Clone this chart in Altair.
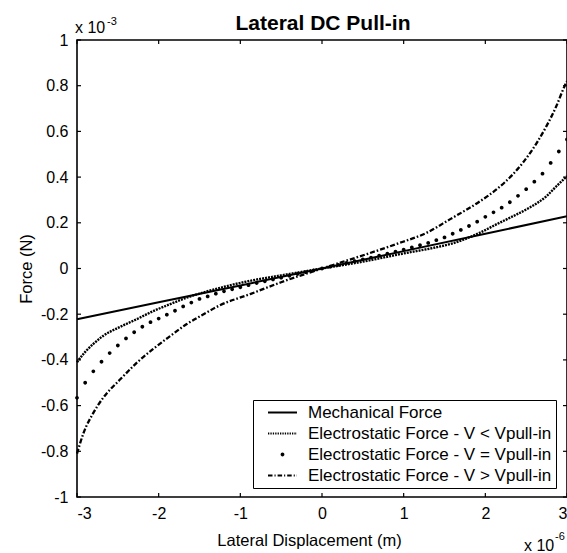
import altair as alt
import pandas as pd

FONT = "Liberation Sans"

# ---------------- data (x in 1e-6 m, force in 1e-3 N) ----------------
series_names = [
    "Mechanical Force",
    "Electrostatic Force - V < Vpull-in",
    "Electrostatic Force - V = Vpull-in",
    "Electrostatic Force - V > Vpull-in",
]

mech_x = [-3.0, -2.0, -1.0, 0.0, 1.0, 2.0, 3.0]
mech_y = [-0.222, -0.148, -0.074, 0.0, 0.076, 0.152, 0.229]

below_x = [-3.0, -2.9, -2.8, -2.68, -2.47, -2.27, -2.07, -1.86, -1.66, -1.455, -1.2,
           -0.88, -0.5, 0.0, 0.5, 1.0, 1.36, 1.6, 1.93, 2.14, 2.34, 2.54, 2.75, 2.87, 3.0]
below_y = [-0.41, -0.365, -0.33, -0.295, -0.255, -0.222, -0.187, -0.156, -0.128, -0.105, -0.08,
           -0.054, -0.03, 0.0, 0.03, 0.066, 0.09, 0.11, 0.156, 0.194, 0.229, 0.266, 0.317, 0.36, 0.404]

equal_x = [-3.0, -2.9, -2.8, -2.7, -2.6, -2.5, -2.4, -2.3, -2.2, -2.1,
           -2.0, -1.9, -1.8, -1.7, -1.6, -1.5, -1.4, -1.3, -1.2, -1.1,
           -1.0, -0.9, -0.8, -0.7, -0.6, -0.5, -0.4, -0.3, -0.2, -0.1,
           0.0, 0.1, 0.2, 0.3, 0.4, 0.5, 0.6, 0.7, 0.8, 0.9,
           1.0, 1.1, 1.2, 1.3, 1.4, 1.5, 1.6, 1.7, 1.8, 1.9,
           2.0, 2.1, 2.2, 2.3, 2.4, 2.5, 2.6, 2.7, 2.8, 2.9, 3.0]
equal_y = [-0.566, -0.50, -0.45, -0.408, -0.37, -0.337, -0.306, -0.279, -0.255, -0.235,
           -0.219, -0.202, -0.185, -0.166, -0.149, -0.133, -0.122, -0.11, -0.10, -0.091,
           -0.082, -0.073, -0.064, -0.056, -0.048, -0.04, -0.032, -0.024, -0.016, -0.008,
           0.0, 0.008, 0.016, 0.024, 0.032, 0.04, 0.048, 0.056, 0.065, 0.074,
           0.083, 0.092, 0.102, 0.112, 0.124, 0.136, 0.152, 0.169, 0.186, 0.205,
           0.226, 0.246, 0.266, 0.29, 0.318, 0.347, 0.38, 0.415, 0.462, 0.512, 0.565]

above_x = [-3.0, -2.92, -2.80, -2.68, -2.47, -2.27, -2.07, -1.86, -1.66, -1.45, -1.25,
           -0.88, -0.5, 0.0, 0.54, 0.95, 1.28, 1.565, 1.93, 2.14, 2.34, 2.46, 2.63,
           2.75, 2.87, 2.97, 3.0]
above_y = [-0.81, -0.72, -0.632, -0.566, -0.485, -0.413, -0.353, -0.296, -0.244, -0.20, -0.161,
           -0.112, -0.06, 0.0, 0.062, 0.112, 0.156, 0.215, 0.293, 0.347, 0.413, 0.463, 0.55,
           0.624, 0.711, 0.798, 0.82]

x_ticks = [-3, -2, -1, 0, 1, 2, 3]
y_ticks = [-1, -0.8, -0.6, -0.4, -0.2, 0, 0.2, 0.4, 0.6, 0.8, 1]

title_text = "Lateral DC Pull-in"
x_title = "Lateral Displacement (m)"
y_title = "Force (N)"

mech_df = pd.DataFrame({"x": mech_x, "y": mech_y, "series": series_names[0]})
below_df = pd.DataFrame({"x": below_x, "y": below_y, "series": series_names[1]})
equal_df = pd.DataFrame({"x": equal_x, "y": equal_y, "series": series_names[2]})
above_df = pd.DataFrame({"x": above_x, "y": above_y, "series": series_names[3]})
xt_df = pd.DataFrame({"v": x_ticks})
yt_df = pd.DataFrame({"v": y_ticks})

W, H = 490, 457

# ---------------- legend symbol paths (filled shapes; style only) ----------------
HALF = 2.9


def bars(pattern, thick):
    out, pos, i = [], -HALF, 0
    while pos < HALF - 1e-9:
        length, gap = pattern[i % len(pattern)]
        length = min(length, HALF - pos)
        out.append(f"M{pos:.3f},{-thick:.3f}h{length:.3f}v{2 * thick:.3f}h{-length:.3f}Z")
        pos += length + gap
        i += 1
    return "".join(out)


path_solid = bars([(2 * HALF, 0)], 0.2)
path_dotted = bars([(0.26, 0.22)], 0.19)
path_dot = "M-0.38,0a0.38,0.38 0 1,0 0.76,0a0.38,0.38 0 1,0 -0.76,0Z"
path_dashdot = bars([(0.9, 0.4), (0.22, 0.4)], 0.19)

shape_scale = alt.Scale(domain=series_names,
                        range=[path_solid, path_dotted, path_dot, path_dashdot])

x_scale = alt.Scale(domain=[-3, 3], nice=False, zero=False)
y_scale = alt.Scale(domain=[-1, 1], nice=False, zero=False)

x_main_axis = alt.Axis(orient="bottom", values=x_ticks, labelExpr="'' + datum.value",
                       ticks=False, labelPadding=8, domain=False, grid=False,
                       title=x_title, titleX=232, titleY=48,
                       titleBaseline="alphabetic")
y_main_axis = alt.Axis(orient="left", values=y_ticks, labelExpr="'' + datum.value",
                       ticks=False, labelPadding=9, domain=False, grid=False,
                       title=y_title, titleX=-46, titleY=228.5,
                       titleBaseline="alphabetic", titleAngle=-90)

mech = alt.Chart(mech_df).mark_line(color="black", strokeWidth=2).encode(
    x=alt.X("x:Q", scale=x_scale, axis=x_main_axis),
    y=alt.Y("y:Q", scale=y_scale, axis=y_main_axis),
)

below = alt.Chart(below_df).mark_line(
    color="black", strokeWidth=2.4, strokeDash=[2, 1], interpolate="monotone"
).encode(
    x=alt.X("x:Q", scale=x_scale, axis=None),
    y=alt.Y("y:Q", scale=y_scale, axis=None),
)

above = alt.Chart(above_df).mark_line(
    color="black", strokeWidth=2.3, strokeDash=[5, 2, 1.6, 2], interpolate="monotone"
).encode(
    x=alt.X("x:Q", scale=x_scale, axis=None),
    y=alt.Y("y:Q", scale=y_scale, axis=None),
)

legend = alt.Legend(
    title=None, orient="none", legendX=176, legendY=360,
    padding=4, rowPadding=3, symbolSize=100, symbolStrokeWidth=0,
    symbolFillColor="black", symbolOpacity=1,
    symbolOffset=17, labelOffset=17, labelFont=FONT, labelFontSize=17,
    labelColor="black", labelLimit=0, strokeColor="black", fillColor="white",
)

equal = alt.Chart(equal_df).mark_point(
    filled=True, size=100, color="black", strokeWidth=0, opacity=1
).encode(
    x=alt.X("x:Q", scale=x_scale, axis=None),
    y=alt.Y("y:Q", scale=y_scale, axis=None),
    shape=alt.Shape("series:N", scale=shape_scale, legend=legend),
)

# inward tick marks on all four sides, placed by the scales at the tick values
TK = 4
ticks_bottom = alt.Chart(xt_df).mark_rule(color="black", strokeWidth=1.2).encode(
    x=alt.X("v:Q", scale=x_scale, axis=None), y=alt.value(H), y2=alt.value(H - TK))
ticks_top = alt.Chart(xt_df).mark_rule(color="black", strokeWidth=1.2).encode(
    x=alt.X("v:Q", scale=x_scale, axis=None), y=alt.value(0), y2=alt.value(TK))
ticks_left = alt.Chart(yt_df).mark_rule(color="black", strokeWidth=1.2).encode(
    y=alt.Y("v:Q", scale=y_scale, axis=None), x=alt.value(0), x2=alt.value(TK))
ticks_right = alt.Chart(yt_df).mark_rule(color="black", strokeWidth=1.2).encode(
    y=alt.Y("v:Q", scale=y_scale, axis=None), x=alt.value(W), x2=alt.value(W - TK))

frame = alt.Chart(pd.DataFrame({"f": [0]})).mark_rect(
    fillOpacity=0, stroke="black", strokeWidth=1.6
).encode(x=alt.value(0), x2=alt.value(W), y=alt.value(0), y2=alt.value(H))


def label(text, x, y, size, align="left", weight="normal"):
    return alt.Chart(pd.DataFrame({"t": [text]})).mark_text(
        font=FONT, fontSize=size, color="black", align=align,
        baseline="alphabetic", fontWeight=weight
    ).encode(text="t:N", x=alt.value(x), y=alt.value(y))


title = label(title_text, W / 2 + 1, -10, 21, align="center", weight="bold")
exp_y1 = label("x 10", -2, -7, 16)
exp_y2 = label("-3", 30, -15, 11)
exp_x1 = label("x 10", 447, H + 54, 16)
exp_x2 = label("-6", 478, H + 43, 11)

chart = alt.layer(
    frame, mech, below, above, equal, ticks_bottom, ticks_top, ticks_left, ticks_right,
    title, exp_y1, exp_y2, exp_x1, exp_x2,
).resolve_axis(
    x="independent", y="independent"
).properties(
    width=W, height=H,
    autosize=alt.AutoSizeParams(type="none"),
    padding={"left": 77, "top": 40, "right": 0, "bottom": 56},
    background="white",
).configure_view(
    stroke=None
).configure_axis(
    labelFont=FONT, labelFontSize=16, labelColor="black", titleFont=FONT,
    titleFontSize=16.5, titleFontWeight="normal", titleColor="black",
)

chart.save("out.html", embed_options={"renderer": "svg", "actions": False})
